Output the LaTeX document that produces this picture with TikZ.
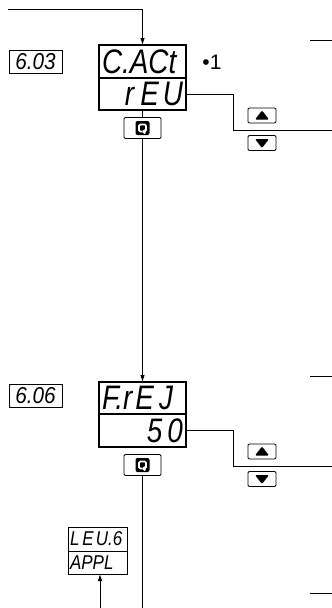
\documentclass[tikz,border=0pt]{standalone}
\usepackage{fontspec}
\setmainfont{Liberation Sans}
\usetikzlibrary{positioning,arrows.meta}

\begin{document}
\begin{tikzpicture}[
  x=1pt, y=-1pt,
  line width=0.8pt,
  disp/.style={draw, line width=1.8pt, minimum width=87pt, text width=81pt, minimum height=33pt, inner sep=3pt, outer sep=0pt, font=\fontsize{34}{34}\selectfont\itshape\addfontfeature{FakeStretch=0.82}},
  code/.style={draw, minimum width=53pt, minimum height=23pt, inner sep=1pt, font=\fontsize{23}{23}\selectfont\itshape\addfontfeature{FakeStretch=0.9}},
  opt/.style={draw, minimum width=59pt, text width=55pt, minimum height=24pt, inner sep=2pt, outer sep=0pt, align=left, font=\fontsize{20}{20}\selectfont\itshape\addfontfeature{FakeStretch=0.85}},
  key/.style={draw, rounded corners=1.2pt, minimum width=28pt, minimum height=15pt, inner sep=0pt},
  upkey/.style={key, path picture={\fill ([shift={(-7,4)}]path picture bounding box.center) -- ++(14,0) -- ++(-7,-9) -- cycle;}},
  dnkey/.style={key, path picture={\fill ([shift={(-7,-4)}]path picture bounding box.center) -- ++(14,0) -- ++(-7,9) -- cycle;}},
  loopkey/.style={key, minimum width=37pt, minimum height=21pt, path picture={
    \fill[rounded corners=2pt] ([shift={(-7,-7)}]path picture bounding box.center) rectangle ++(14,14);
    \draw[white, line width=1.6pt] ([shift={(-0.5,3.5)}]path picture bounding box.center) -- ++(-3,0) -- ++(0,-7) -- ++(7,0) -- ++(0,7) -- ++(-1.6,0);
    \fill[white] ([shift={(3,0.6)}]path picture bounding box.center) -- ++(0,6) -- ++(-4,-3) -- cycle;}},
  arrow/.style={-{Latex[length=7pt,width=4.5pt]}}
]
\useasboundingbox (0,0) rectangle (332,608);

% first parameter
\node[code] (c603) at (35.5,61.5) {6.03};
\node[disp, align=left] (cact) at (142.5,61.5) {C.ACt};
\node[disp, align=right, minimum height=32pt, below=0pt of cact] (rev) {r\kern6pt E\kern4pt U};
\node[font=\fontsize{21}{21}\selectfont, anchor=west, inner sep=0pt] (note) at (202,62) {•1};
\node[loopkey] (loop1) at (142.5,128) {};
\node[upkey] (up1) at (262,115.5) {};
\node[dnkey] (dn1) at (262,143) {};

% second parameter
\node[code] (c606) at (35.5,395.5) {6.06};
\node[disp, align=left, minimum height=32pt] (frej) at (142.5,398) {F.r\kern3pt E\kern5pt J};
\node[disp, align=right, below=0pt of frej] (fifty) {5\kern5pt 0};
\node[loopkey] (loop2) at (142.5,465) {};
\node[upkey] (up2) at (262,451.5) {};
\node[dnkey] (dn2) at (262,479) {};

% level box
\node[opt] (lev) at (97.5,539) {L\kern3pt E\kern2pt U.6};
\node[opt, minimum height=23pt, below=0pt of lev] (appl) {APPL};

% free ends
\coordinate (in) at (8,9);
\coordinate (out1) at (332,130);
\coordinate (out2) at (332,466);
\coordinate (exit) at (142.5,608);
\coordinate (levin) at (100,608);
\coordinate (s1) at (310,40);
\coordinate (s2) at (310,376);
\coordinate (s3) at (310,593);

\draw[arrow] (in) -| (cact.north);
\draw (rev.south) -- (loop1.north);
\draw[arrow] (loop1.south) -- (frej.north);
\draw (loop2.south) -- (exit);
\draw[arrow] (levin) -- (levin |- appl.south);

\draw (rev.east) -- ++(47,0) |- (out1);
\draw (fifty.east) -- ++(47,0) |- (out2);

\foreach \s in {s1,s2,s3}
  \draw (\s) -- ++(22,0);
\end{tikzpicture}
\end{document}
